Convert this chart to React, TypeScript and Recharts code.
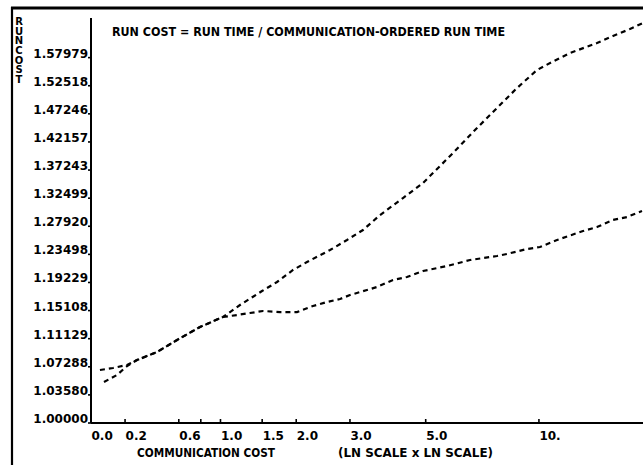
import React from "react";
import { LineChart, Line, XAxis, YAxis } from "recharts";

// Communication cost (x) and run cost (y) for the two curves
const COMM_A = [0.072, 0.149, 0.213, 0.279, 0.424, 0.585, 0.792, 1.027, 1.22, 1.498, 1.707, 1.949, 2.178, 2.595, 2.937, 3.289, 3.698, 4.313, 4.914, 5.945, 6.813, 7.695, 8.781, 9.887, 10.8, 11.99, 14.01, 15.35, 16.91, 18.2];
const COST_A = [1.0526, 1.0619, 1.0739, 1.082, 1.0929, 1.1095, 1.1277, 1.1419, 1.1591, 1.1796, 1.193, 1.2111, 1.2232, 1.2417, 1.2574, 1.2732, 1.2973, 1.3252, 1.3504, 1.402, 1.443, 1.4796, 1.5208, 1.5555, 1.5712, 1.589, 1.609, 1.6231, 1.6374, 1.6497];

const COMM_B = [0.049, 0.125, 0.213, 0.279, 0.424, 0.585, 0.792, 1.027, 1.185, 1.342, 1.511, 1.751, 2.013, 2.282, 2.537, 2.793, 3.001, 3.382, 3.623, 4.036, 4.428, 4.914, 5.725, 6.606, 7.788, 8.272, 9.319, 10.06, 11.12, 12.93, 14.01, 15.35, 16.63, 18.1];
const COST_B = [1.0686, 1.0713, 1.0753, 1.082, 1.0929, 1.1095, 1.1277, 1.1419, 1.1447, 1.1476, 1.1505, 1.149, 1.149, 1.1577, 1.1635, 1.1679, 1.1737, 1.1811, 1.1856, 1.196, 1.2005, 1.2095, 1.2171, 1.2263, 1.2325, 1.2356, 1.2433, 1.2464, 1.2574, 1.2716, 1.278, 1.2893, 1.2941, 1.3039];

const X_TICK_VALUES = [0, 0.2, 0.6, 0.8, 1.0, 1.5, 2.0, 3.0, 5.0, 10];
const X_TICK_LABELS = ["0.0", "0.2", "0.6", "", "1.0", "1.5", "2.0", "3.0", "5.0", "10."];
const Y_TICK_LABELS = ["1.00000", "1.03580", "1.07288", "1.11129", "1.15108", "1.19229", "1.23498", "1.27920", "1.32499", "1.37243", "1.42157", "1.47246", "1.52518", "1.57979"];

const TITLE = "RUN COST = RUN TIME / COMMUNICATION-ORDERED RUN TIME";
const X_LABEL = "COMMUNICATION COST";
const X_NOTE = "(LN SCALE x LN SCALE)";
const Y_LABEL_WORDS = ["RUN", "COST"];

// ln x ln scale transform
const lx = (v: number) => Math.log(1 + v);
const ly = (v: number) => Math.log(v);

const dataA = COMM_A.map((c, i) => ({ lx: lx(c), ly: ly(COST_A[i]) }));
const dataB = COMM_B.map((c, i) => ({ lx: lx(c), ly: ly(COST_B[i]) }));

const xTicks = X_TICK_VALUES.map(lx);
const yTicks = Y_TICK_LABELS.map((s) => ly(parseFloat(s)));

const FONT = "'DejaVu Sans', sans-serif";

const XTick = (props: any) => {
  const { x, y, payload } = props;
  const idx = xTicks.findIndex((t) => Math.abs(t - payload.value) < 1e-6);
  const label = idx >= 0 ? X_TICK_LABELS[idx] : "";
  return (
    <g>
      {payload.value > 0 && <line x1={x} x2={x} y1={y} y2={y - 4} stroke="#000" strokeWidth={1.6} />}
      <text x={x + 0.5} y={y + 17} textAnchor="start" fontFamily={FONT} fontWeight="bold" fontSize={12} fill="#000">
        {label}
      </text>
    </g>
  );
};

const YTick = (props: any) => {
  const { x, y, payload } = props;
  const idx = yTicks.findIndex((t) => Math.abs(t - payload.value) < 1e-6);
  const label = idx >= 0 ? Y_TICK_LABELS[idx] : "";
  return (
    <g>
      <line x1={x - 3} x2={x} y1={y} y2={y} stroke="#000" strokeWidth={1.6} />
      <text x={x - 3} y={y} textAnchor="end" fontFamily={FONT} fontWeight="bold" fontSize={12} fill="#000">
        {label}
      </text>
    </g>
  );
};

const yWordTop = [16, 45];

export default function App() {
  return (
    <div style={{ position: "fixed", left: 0, top: 0, width: 643, height: 465, background: "#fff", overflow: "hidden" }}>
      <LineChart width={643} height={465} data={dataA} margin={{ top: 18, right: 0, bottom: 0, left: 0 }}>
        <XAxis
          type="number"
          dataKey="lx"
          domain={[0, 2.955]}
          allowDataOverflow
          ticks={xTicks}
          interval={0}
          height={42}
          tickSize={0}
          tickMargin={0}
          tickLine={false}
          axisLine={{ stroke: "#000", strokeWidth: 2 }}
          tick={<XTick />}
        />
        <YAxis
          type="number"
          dataKey="ly"
          domain={[0, 0.5069]}
          allowDataOverflow
          ticks={yTicks}
          interval={0}
          width={91}
          tickSize={0}
          tickMargin={0}
          tickLine={false}
          axisLine={{ stroke: "#000", strokeWidth: 2 }}
          tick={<YTick />}
        />
        <Line data={dataA} dataKey="ly" type="linear" stroke="#000" strokeWidth={2.2} strokeDasharray="5 4" dot={false} isAnimationActive={false} />
        <Line data={dataB} dataKey="ly" type="linear" stroke="#000" strokeWidth={2.2} strokeDasharray="5 4" dot={false} isAnimationActive={false} />
      </LineChart>
      <svg width={643} height={465} style={{ position: "absolute", left: 0, top: 0, pointerEvents: "none" }}>
        <line x1={11} x2={643} y1={8} y2={8} stroke="#000" strokeWidth={3} />
        <line x1={12} x2={12} y1={7} y2={465} stroke="#000" strokeWidth={2.2} />
        <text x={112} y={36} fontFamily={FONT} fontWeight="bold" fontSize={12} fill="#000" textLength={393} lengthAdjust="spacingAndGlyphs">
          {TITLE}
        </text>
        <text x={137} y={457} fontFamily={FONT} fontWeight="bold" fontSize={12} fill="#000" textLength={138} lengthAdjust="spacingAndGlyphs">
          {X_LABEL}
        </text>
        <text x={338} y={457} fontFamily={FONT} fontWeight="bold" fontSize={12} fill="#000" textLength={155} lengthAdjust="spacingAndGlyphs">
          {X_NOTE}
        </text>
        {Y_LABEL_WORDS.map((w, i) => (
          <text
            key={w}
            x={19}
            y={yWordTop[i]}
            fontFamily={FONT}
            fontWeight="bold"
            fontSize={10}
            letterSpacing={-1.5}
            fill="#000"
            style={{ writingMode: "vertical-rl", textOrientation: "upright" } as any}
          >
            {w}
          </text>
        ))}
      </svg>
    </div>
  );
}
